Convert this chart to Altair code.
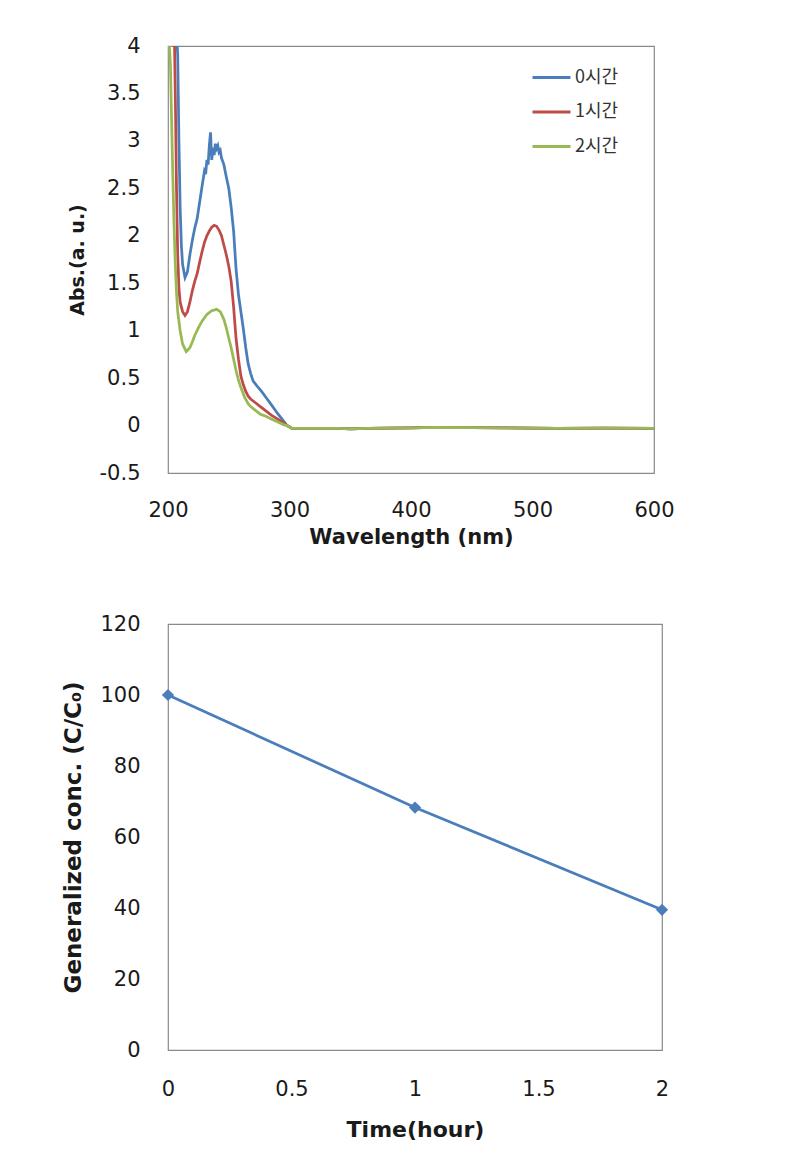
import altair as alt
import pandas as pd

# ---------------- Top chart: absorption spectra ----------------
series_names = ["0시간", "1시간", "2시간"]
series_colors = ["#4A7EBB", "#BE4B48", "#98B954"]

wl_0h = [200, 206, 208, 209, 210, 211, 212, 214, 216, 218, 220, 222, 224, 226, 228, 230,
         231, 232, 233, 234, 235, 236, 237, 238, 239, 240, 241, 242, 243, 244, 246, 248,
         250, 252, 254, 256, 258, 260, 262, 264, 266, 268, 270, 273, 277, 281, 285, 290,
         295, 298]
abs_0h = [4.6, 4.4, 3.9, 3.0, 2.3, 1.9, 1.7, 1.56, 1.62, 1.8, 1.95, 2.08, 2.18, 2.35, 2.52, 2.68,
          2.65, 2.8, 2.75, 2.95, 3.09, 2.8, 2.93, 2.85, 2.97, 2.92, 2.95, 2.88, 2.9, 2.82, 2.75, 2.62,
          2.5, 2.3, 2.05, 1.65, 1.38, 1.2, 1.02, 0.82, 0.65, 0.55, 0.47, 0.42, 0.36, 0.29, 0.22, 0.13,
          0.05, 0.0]

wl_1h = [200, 205, 206, 207, 208, 209, 210, 212, 214, 216, 218, 220, 222, 224, 226, 228,
         230, 232, 234, 236, 238, 240, 242, 244, 246, 248, 250, 252, 254, 256, 258, 260,
         262, 264, 266, 268, 272, 276, 280, 285, 290, 295, 298]
abs_1h = [4.6, 4.3, 3.5, 2.5, 1.8, 1.45, 1.3, 1.2, 1.16, 1.2, 1.3, 1.42, 1.52, 1.6, 1.72, 1.83,
          1.93, 2.0, 2.05, 2.09, 2.11, 2.1, 2.06, 2.0, 1.9, 1.8, 1.68, 1.52, 1.25, 0.92, 0.7, 0.52,
          0.43, 0.36, 0.31, 0.28, 0.24, 0.2, 0.16, 0.11, 0.07, 0.03, 0.0]

wl_2h = [200, 202, 203, 204, 205, 206, 207, 208, 210, 212, 215, 218, 220, 222, 225, 228,
         232, 236, 240, 243, 246, 248, 250, 252, 254, 256, 258, 260, 263, 266, 268, 272,
         276, 280, 285, 290, 295, 298]
abs_2h = [4.3, 3.8, 3.2, 2.6, 2.1, 1.7, 1.4, 1.2, 1.0, 0.86, 0.78, 0.82, 0.88, 0.95, 1.03, 1.1,
          1.17, 1.21, 1.225, 1.2, 1.12, 1.03, 0.92, 0.82, 0.7, 0.58, 0.48, 0.4, 0.3, 0.23, 0.2, 0.16,
          0.12, 0.1, 0.07, 0.04, 0.01, 0.0]

# common flat baseline beyond ~300 nm
flat_wl = [302, 320, 340, 350, 365, 380, 400, 420, 450, 480, 520, 560, 600]
flat_abs = [-0.03, -0.03, -0.03, -0.035, -0.03, -0.027, -0.025, -0.02, -0.022, -0.025, -0.03, -0.028, -0.03]

top_x_ticks = [200, 300, 400, 500, 600]
top_y_ticks = [-0.5, 0, 0.5, 1, 1.5, 2, 2.5, 3, 3.5, 4]

# ---------------- Bottom chart: generalized concentration ----------------
time_h = [0, 1, 2]
conc = [100, 68.3, 39.5]
bot_x_ticks = [0, 0.5, 1, 1.5, 2]
bot_y_ticks = [0, 20, 40, 60, 80, 100, 120]

rows = []
for name, wls, vals in zip(series_names, [wl_0h, wl_1h, wl_2h], [abs_0h, abs_1h, abs_2h]):
    for w, v in zip(list(wls) + flat_wl, list(vals) + flat_abs):
        rows.append({"series": name, "wl": w, "abs": v})
spec_df = pd.DataFrame(rows)
conc_df = pd.DataFrame({"time": time_h, "conc": conc})

label_expr = "'' + datum.value"
TXT = "#1a1a1a"

top = alt.Chart(spec_df).mark_line(strokeWidth=2.75, clip=True).encode(
    x=alt.X("wl:Q",
            scale=alt.Scale(domain=[200, 600], nice=False, zero=False),
            axis=alt.Axis(values=top_x_ticks, labelExpr=label_expr, title="Wavelength (nm)",
                          labelFlush=False, titleFontSize=21, labelPadding=26, titlePadding=6)),
    y=alt.Y("abs:Q",
            scale=alt.Scale(domain=[-0.5, 4], nice=False, zero=False),
            axis=alt.Axis(values=top_y_ticks, labelExpr=label_expr, title="Abs.(a. u.)",
                          titleFontSize=19, labelPadding=28, titlePadding=12)),
    color=alt.Color("series:N",
                    scale=alt.Scale(domain=series_names, range=series_colors),
                    legend=alt.Legend(title=None, orient="none", legendX=363, legendY=11,
                                      symbolType="stroke", symbolSize=1444, symbolStrokeWidth=3,
                                      labelFont="Noto Sans CJK KR", labelFontSize=18,
                                      labelColor="#333333", labelOffset=3, rowPadding=4.5, padding=0)),
).properties(width=486, height=427)

bx = alt.X("time:Q", scale=alt.Scale(domain=[0, 2], nice=False, zero=False),
           axis=alt.Axis(values=bot_x_ticks, labelExpr=label_expr, title="Time(hour)",
                         labelFlush=False, titleFontSize=22, labelPadding=28, titlePadding=20))
by = alt.Y("conc:Q", scale=alt.Scale(domain=[0, 120], nice=False),
           axis=alt.Axis(values=bot_y_ticks, labelExpr=label_expr, title="Generalized conc. (C/C₀)",
                         titleFontSize=23, labelPadding=28, titlePadding=14))

bottom_line = alt.Chart(conc_df).mark_line(color="#4A7EBB", strokeWidth=2.75).encode(x=bx, y=by)
bottom_pts = alt.Chart(conc_df).mark_point(shape="diamond", filled=True, size=150,
                                           color="#4A7EBB", opacity=1).encode(x=bx, y=by)
bottom = (bottom_line + bottom_pts).properties(width=494, height=426)

chart = alt.vconcat(top, bottom, spacing=64).properties(
    padding={"left": 54, "top": 26, "right": 5, "bottom": 5}
).configure_view(
    stroke="#8a8a8a", strokeWidth=1.2
).configure_axis(
    grid=False, ticks=False, domain=False,
    labelFont="DejaVu Sans", labelFontSize=21, labelColor=TXT,
    titleFont="DejaVu Sans", titleFontWeight="bold", titleColor=TXT
)

chart.save("out.html", embed_options={"renderer": "svg", "actions": False})
